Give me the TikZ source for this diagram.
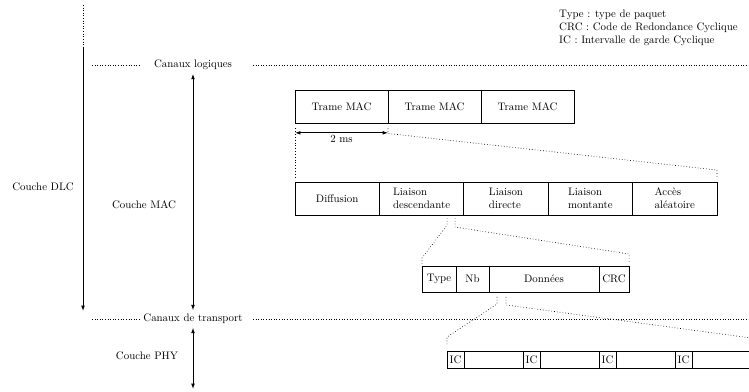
\documentclass[tikz,border=0pt]{standalone}
\usetikzlibrary{positioning}
\usetikzlibrary{arrows.meta}

\begin{document}
\begin{tikzpicture}[x=0.92pt, y=-0.92pt,
    box/.style={draw, thick, outer sep=0pt, inner sep=1pt},
    trame/.style={box, minimum width=85.6pt, minimum height=30.4pt},
    canal/.style={box, align=left, minimum width=77.65pt, minimum height=30.4pt},
    champ/.style={box, minimum height=23.9pt},
    garde/.style={box, minimum width=15.64pt, minimum height=15.64pt},
    zoom/.style={dotted, line width=0.6pt},
    fleche/.style={{Latex[length=5pt,width=3.5pt]}-{Latex[length=5pt,width=3.5pt]}, thick}]
    \clip (0,0) rectangle (749,391);

    % legende
    \node (legende) [anchor=north west, align=left, inner sep=0pt] at (559,10) {Type : type de paquet \\ CRC : Code de Redondance Cyclique \\ IC : Intervalle de garde Cyclique};

    % couches et canaux
    \node (logiques) at (193,65) {Canaux logiques};
    \node (transport) at (193,319) {Canaux de transport};
    \node (dlc) at (43,187) {Couche DLC};
    \node (mac) at (144,205) {Couche MAC};
    \node (phy) at (147,356) {Couche PHY};
    \draw[dotted] (92,65) -- (139,65);
    \draw[dotted] (253,65) -- (749,65);
    \draw[dotted] (92,319) -- (139,319);
    \draw[dotted] (253,319) -- (749,319);

    \coordinate (dlchaut) at (83,5);
    \coordinate (dlcmil) at (83,47);
    \coordinate (dlcbas) at (83,311);
    \coordinate (phybas) at (193,389);
    \draw[dotted] (dlchaut) -- (dlcmil);
    \draw[-{Latex[length=5pt,width=3.5pt]}, thick] (dlcmil) -- (dlcbas);
    \draw[fleche] (logiques) -- (transport);
    \draw[fleche] (transport) -- (phybas);

    % trames MAC
    \node (t1) [trame, anchor=north west] at (295,90) {Trame MAC};
    \node (t2) [trame, right=0pt of t1] {Trame MAC};
    \node (t3) [trame, right=0pt of t2] {Trame MAC};
    \draw[fleche] ([yshift=-9pt]t1.south west) -- node[below=1pt, inner sep=1pt] (duree) {2 ms} ([yshift=-9pt]t1.south east);

    % canaux de la trame
    \node (c1) [canal, anchor=north west] at (295,182) {Diffusion};
    \node (c2) [canal, right=0pt of c1] {Liaison \\ descendante};
    \node (c3) [canal, right=0pt of c2] {Liaison \\ directe};
    \node (c4) [canal, right=0pt of c3] {Liaison \\ montante};
    \node (c5) [canal, right=0pt of c4] {Accès \\ aléatoire};
    \draw[zoom] ([yshift=-5pt]t1.south west) -- ([yshift=3pt]c1.north west);
    \draw[zoom] ([yshift=-5pt]t1.south east) -- ++(0,5) -- ([yshift=11pt]c5.north east) -- ++(0,8);

    % paquet
    \node (p1) [champ, anchor=north west, minimum width=31.3pt] at (422,266) {Type};
    \node (p2) [champ, right=0pt of p1, minimum width=30.4pt] {Nb};
    \node (p3) [champ, right=0pt of p2, minimum width=101.2pt] {Données};
    \node (p4) [champ, right=0pt of p3, minimum width=27.6pt] {CRC};
    \draw[zoom] ([shift={(25.5,3)}]c2.south) -- ++(0,7) -- ([shift={(0,-8)}]p1.north west) -- ++(0,6);
    \draw[zoom] ([shift={(33.5,3)}]c2.south) -- ++(0,9) -- ([shift={(0,-12)}]p4.north east) -- ++(0,9);

    % intervalles de garde
    \foreach \i in {0,...,3} {
        \node (ic\i) [garde, anchor=north west] at ({447+76*\i},351) {IC};
        \node (d\i) [garde, right=0pt of ic\i, minimum width=54.3pt] {};
    }
    \draw[zoom] ([shift={(8,5)}]p3.south west) -- ++(0,7) -- ([shift={(0,-14)}]ic0.north west) -- ++(0,7);
    \draw[zoom] ([shift={(17,5)}]p3.south west) -- ++(0,8) -- ([shift={(0,-13)}]d3.north east) -- ++(0,7);
\end{tikzpicture}
\end{document}
